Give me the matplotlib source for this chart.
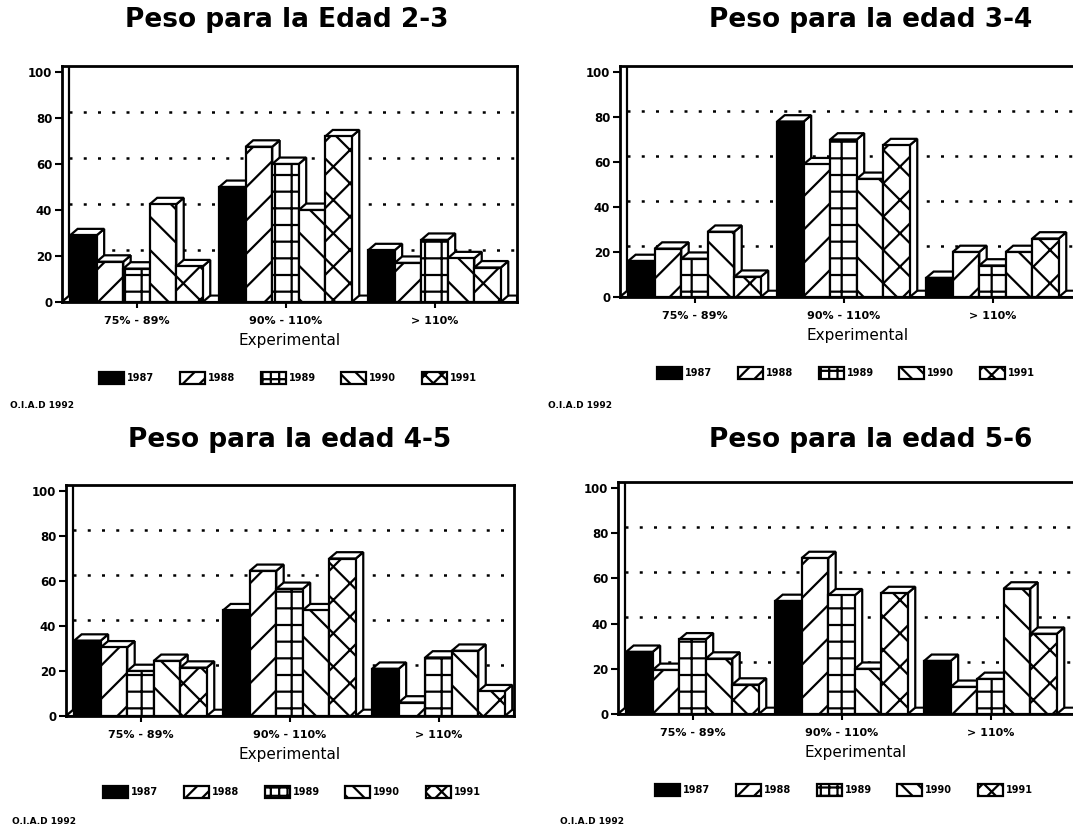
import matplotlib.pyplot as plt
from matplotlib.patches import Patch

plt.rcParams['font.family'] = ['DejaVu Sans']
plt.rcParams['hatch.linewidth'] = 1.6

W, H = 1073, 833

## data (rows = years, cols = groups)
grupos = ['75% - 89%', '90% - 110%', '> 110%']
anios = ['1987', '1988', '1989', '1990', '1991']

peso_2_3 = [[29, 50, 22.5],
            [17.5, 67.5, 17],
            [14.5, 60, 27],
            [42.5, 40, 19],
            [15.5, 72, 15]]
peso_3_4 = [[16, 78, 8.5],
            [21.5, 59, 20],
            [17, 70, 14],
            [29, 52.5, 20],
            [9, 67.5, 26]]
peso_4_5 = [[33.5, 47, 21],
            [30.5, 64.5, 6],
            [20, 56.5, 26],
            [24.5, 47, 29],
            [21.5, 70, 11]]
peso_5_6 = [[27.5, 50, 23.5],
            [19.5, 69, 12],
            [33, 52.5, 15.5],
            [24.5, 20, 55.5],
            [13, 53.5, 35.5]]

titulos = ['Peso para la Edad 2-3', 'Peso para la edad 3-4',
           'Peso para la edad 4-5', 'Peso para la edad 5-6']

hatches = ['', '/', '+', '\\', 'x']
hatches_leg = ['', '//', '++', '\\\\', 'xx']
colores = ['black', 'white', 'white', 'white', 'white']

bw = 0.178   # bar width
dx = 0.05    # depth offset x
dy = 2.8     # depth offset y
xlo = -0.5
px_unit = 149.0   # pixels per group


def draw_chart(fig, datos, titulo, left, y0, y100, width, title_xy, credit_xy):
    top = y0 - (y0 - y100) * (100 + dy) / 100
    xhi = xlo + width / px_unit
    ax = fig.add_axes([left / W, 1 - y0 / H, width / W, (y0 - top) / H])
    ax.set_xlim(xlo, xhi)
    ax.set_ylim(0, 100 + dy)

    # back wall grid
    for v in [20, 40, 60, 80]:
        ax.hlines(v + dy, xlo + dx, xhi, colors='black', lw=1.8,
                  linestyles=(0, (1.2, 4.5)), zorder=1)
    ax.plot([xlo + dx, xlo + dx], [dy, 100 + dy], color='black', lw=1.6, zorder=1)
    ax.plot([xlo, xlo + dx], [0, dy], color='black', lw=1.6, zorder=1)

    # floor
    ax.fill([xlo, xlo + dx, xhi, xhi], [0, dy, dy, 0], facecolor='white',
            edgecolor='black', lw=1.5, zorder=2)

    for i in range(len(anios)):
        z = 3 + i
        for g, h in enumerate(datos[i]):
            xl = g + (i - 2.5) * bw
            xr = xl + bw
            ax.fill([xr, xr + dx, xr + dx, xr], [0, dy, h + dy, h],
                    facecolor='white', edgecolor='black', lw=1.6, zorder=z)
            ax.fill([xl, xl + dx, xr + dx, xr], [h, h + dy, h + dy, h],
                    facecolor='white', edgecolor='black', lw=1.6, zorder=z)
        ax.bar([g + (i - 2) * bw for g in range(len(grupos))], datos[i], bw,
               color=colores[i], edgecolor='black', hatch=hatches[i], lw=1.6,
               zorder=z)

    for s in ax.spines.values():
        s.set_linewidth(2)
    ax.set_yticks([0, 20, 40, 60, 80, 100])
    ax.set_xticks(range(len(grupos)))
    ax.set_xticklabels(grupos, fontsize=8, fontweight='bold')
    ax.tick_params(axis='y', labelsize=8.5, width=1.5, length=5, pad=2)
    ax.tick_params(axis='x', width=1.5, length=4, pad=6)
    for t in ax.get_yticklabels():
        t.set_fontweight('bold')
    ax.set_xlabel('Experimental', fontsize=11, labelpad=5)

    hx = (y0 - top)
    handles = [Patch(facecolor=colores[i], edgecolor='black', hatch=hatches_leg[i], lw=1.6)
               for i in range(len(anios))]
    leg = ax.legend(handles, anios, loc='center', ncol=5, frameon=False,
                    bbox_to_anchor=(226 / width, -76 / hx), fontsize=7,
                    handlelength=2.6, handleheight=1.6, handletextpad=0.3,
                    columnspacing=2.6)
    for t in leg.get_texts():
        t.set_fontweight('bold')

    fig.text(title_xy[0] / W, 1 - title_xy[1] / H, titulo, fontsize=19,
             fontweight='bold', ha='center', va='center')
    fig.text(credit_xy[0] / W, 1 - credit_xy[1] / H, 'O.I.A.D 1992', fontsize=6.5,
             fontweight='bold', ha='left', va='center')
    return ax


fig = plt.figure(figsize=(W / 100, H / 100), dpi=100)
draw_chart(fig, peso_2_3, titulos[0], 62, 302, 72, 455, (287, 20), (10, 405))
draw_chart(fig, peso_3_4, titulos[1], 620, 297, 72, 475, (871, 20), (548, 405))
draw_chart(fig, peso_4_5, titulos[2], 66, 716, 491, 448, (290, 440), (12, 822))
draw_chart(fig, peso_5_6, titulos[3], 618, 714, 488, 475, (871, 440), (560, 822))

fig.savefig('out.png', dpi=100, facecolor='white')
